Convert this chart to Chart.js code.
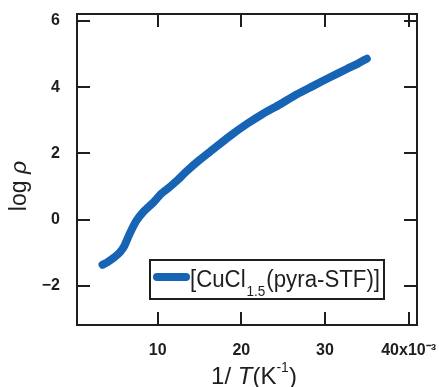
<!DOCTYPE html>
<html lang="en">
<head>
    <meta charset="UTF-8">
    <title>log rho vs 1/T</title>
    <style>
        body {
            margin: 0;
            padding: 0;
            background-color: #fff;
        }
        canvas {
            display: block;
        }
    </style>
</head>
<body>
    <canvas id="rhoChart" width="439" height="387"></canvas>

    <script src="https://cdn.jsdelivr.net/npm/chart.js"></script>
    <script>
        // values (x in units of 10^-3 K^-1)
        const invT = [3.4, 4.0, 4.8, 5.5, 6.0, 6.6, 7.4, 8.4, 9.4, 10.4, 11.4, 12.4, 13.4, 14.8, 16.6,
                      18.6, 20.6, 22.6, 24.6, 26.6, 28.6, 30.6, 32.6, 34.0, 35.0];
        const logRho = [-1.36, -1.28, -1.14, -0.98, -0.80, -0.45, -0.05, 0.27, 0.50, 0.78, 0.98, 1.20, 1.45, 1.76, 2.12,
                        2.52, 2.88, 3.20, 3.48, 3.78, 4.04, 4.30, 4.55, 4.72, 4.86];
        const xTicks = [10, 20, 30, 40];
        const yTicks = [-2, 0, 2, 4, 6];
        const seriesName = ['[CuCl', '1.5', '(pyra-STF)]'];

        const ink = '#1e1e1e';
        const blue = '#1764b4';

        // frame, inward ticks on all four sides, legend box and axis titles
        const decorations = {
            id: 'decorations',
            afterDraw(chart) {
                const ctx = chart.ctx;
                const area = chart.chartArea;
                const xs = chart.scales.x;
                const ys = chart.scales.y;
                const len = 13;

                ctx.save();
                ctx.strokeStyle = ink;
                ctx.lineWidth = 2;
                ctx.strokeRect(area.left, area.top, area.right - area.left, area.bottom - area.top);

                ctx.beginPath();
                xTicks.forEach(v => {
                    const px = Math.round(xs.getPixelForValue(v));
                    ctx.moveTo(px, area.bottom);
                    ctx.lineTo(px, area.bottom - len);
                    ctx.moveTo(px, area.top);
                    ctx.lineTo(px, area.top + len);
                });
                yTicks.forEach(v => {
                    const py = Math.round(ys.getPixelForValue(v));
                    ctx.moveTo(area.left, py);
                    ctx.lineTo(area.left + len, py);
                    ctx.moveTo(area.right, py);
                    ctx.lineTo(area.right - len, py);
                });
                ctx.stroke();

                // legend
                const box = {x: 150, y: 260, w: 234, h: 39};
                ctx.fillStyle = '#fff';
                ctx.fillRect(box.x, box.y, box.w, box.h);
                ctx.strokeRect(box.x, box.y, box.w, box.h);

                ctx.strokeStyle = blue;
                ctx.lineWidth = 8;
                ctx.lineCap = 'round';
                ctx.beginPath();
                ctx.moveTo(157, 277);
                ctx.lineTo(186, 277);
                ctx.stroke();

                const bigFont = '23px "Liberation Sans", Arial, sans-serif';
                const smallFont = '14px "Liberation Sans", Arial, sans-serif';
                ctx.font = bigFont;
                const w1 = ctx.measureText(seriesName[0]).width;
                const w3 = ctx.measureText(seriesName[2]).width;
                ctx.font = smallFont;
                const w2 = ctx.measureText(seriesName[1]).width;
                const sx = Math.min(1, 190 / (w1 + w2 + w3 + 2));

                ctx.fillStyle = ink;
                ctx.textBaseline = 'alphabetic';
                ctx.translate(190, 0);
                ctx.scale(sx, 1);
                ctx.font = bigFont;
                ctx.fillText(seriesName[0], 0, 287);
                ctx.font = smallFont;
                ctx.fillText(seriesName[1], w1 + 1, 296);
                ctx.font = bigFont;
                ctx.fillText(seriesName[2], w1 + w2 + 2, 287);
                ctx.setTransform(1, 0, 0, 1, 0, 0);

                // x title: 1/ T(K^-1)
                const norm = '24px "Liberation Sans", Arial, sans-serif';
                const ital = 'italic 24px "Liberation Sans", Arial, sans-serif';
                const sup = '14px "Liberation Sans", Arial, sans-serif';
                const parts = [
                    {t: '1/ ', f: norm, dy: 0},
                    {t: 'T', f: ital, dy: 0},
                    {t: '(K', f: norm, dy: 0},
                    {t: '-1', f: sup, dy: -12},
                    {t: ')', f: norm, dy: 0}
                ];
                let total = 0;
                parts.forEach(p => { ctx.font = p.f; p.w = ctx.measureText(p.t).width; total += p.w; });
                let cx = 254 - total / 2;
                parts.forEach(p => {
                    ctx.font = p.f;
                    ctx.fillText(p.t, cx, 384 + p.dy);
                    cx += p.w;
                });

                // y title: log rho, rotated
                ctx.translate(26, 186);
                ctx.rotate(-Math.PI / 2);
                const yNorm = '23px "Liberation Sans", Arial, sans-serif';
                const yItal = 'italic 23px "Liberation Sans", Arial, sans-serif';
                ctx.font = yNorm;
                const wl = ctx.measureText('log ').width;
                ctx.font = yItal;
                const wr = ctx.measureText('\u03C1').width;
                let start = -(wl + wr) / 2;
                ctx.font = yNorm;
                ctx.fillText('log ', start, 0);
                ctx.font = yItal;
                ctx.fillText('\u03C1', start + wl, 0);
                ctx.restore();
            }
        };

        const tickFont = {family: '"Liberation Sans", Arial, sans-serif', size: 16, weight: 'bold'};

        const ctx = document.getElementById('rhoChart').getContext('2d');
        new Chart(ctx, {
            type: 'line',
            data: {
                datasets: [{
                    label: seriesName.join(''),
                    data: invT.map((x, i) => ({x: x, y: logRho[i]})),
                    borderColor: blue,
                    borderWidth: 8,
                    borderCapStyle: 'round',
                    borderJoinStyle: 'round',
                    pointRadius: 0,
                    tension: 0.2,
                    fill: false
                }]
            },
            options: {
                responsive: false,
                animation: false,
                devicePixelRatio: 1,
                layout: {padding: {top: 14, right: 22, left: 0, bottom: 0}},
                plugins: {
                    legend: {display: false},
                    tooltip: {enabled: false}
                },
                scales: {
                    x: {
                        type: 'linear',
                        min: 0.35,
                        max: 41,
                        grid: {display: false},
                        border: {display: false},
                        afterBuildTicks: s => { s.ticks = xTicks.map(v => ({value: v})); },
                        afterFit: s => { s.height = 62; s.paddingLeft = 0; s.paddingRight = 0; },
                        ticks: {
                            autoSkip: false,
                            maxRotation: 0,
                            padding: 8,
                            color: ink,
                            font: tickFont,
                            callback: v => v === 40 ? '40x10\u207B\u00B3' : String(v)
                        }
                    },
                    y: {
                        min: -3.18,
                        max: 6.21,
                        grid: {display: false},
                        border: {display: false},
                        afterBuildTicks: s => { s.ticks = yTicks.map(v => ({value: v})); },
                        afterFit: s => { s.width = 77; s.paddingTop = 0; s.paddingBottom = 0; },
                        ticks: {
                            autoSkip: false,
                            padding: 9,
                            color: ink,
                            font: tickFont,
                            callback: v => v < 0 ? '\u2212' + Math.abs(v) : String(v)
                        }
                    }
                }
            },
            plugins: [decorations]
        });
    </script>
</body>
</html>
